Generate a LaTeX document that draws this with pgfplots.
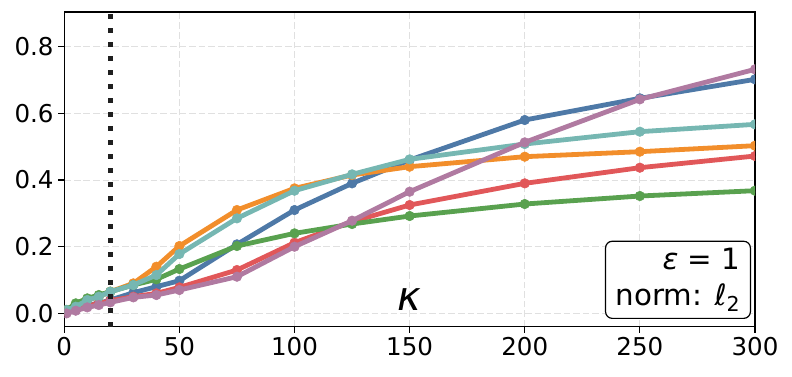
\documentclass[border=0pt]{standalone}
\usepackage{fontspec}
\setmainfont{DejaVu Sans}
\usepackage{pgfplots}
\pgfplotsset{compat=1.18}
\definecolor{cblue}{HTML}{4E79A7}
\definecolor{corange}{HTML}{F28E2B}
\definecolor{cred}{HTML}{E15759}
\definecolor{cteal}{HTML}{76B7B2}
\definecolor{cgreen}{HTML}{59A14F}
\definecolor{cpurple}{HTML}{B07AA1}
\begin{document}
\begin{tikzpicture}
\begin{axis}[name=ax, scale only axis, width=518pt, height=236pt,
  xmin=0, xmax=300, ymin=-0.04, ymax=0.904,
  xtick={0,50,...,300}, ytick={0,0.2,0.4,0.6,0.8},
  yticklabel style={/pgf/number format/.cd, fixed, fixed zerofill, precision=1},
  /pgf/number format/assume math mode=true,
  tick label style={font=\fontsize{18.4}{22}\selectfont},
  tick align=outside, tick pos=left, major tick length=4.5pt,
  tick style={black, line width=0.9pt},
  axis line style={black, line width=0.9pt},
  grid=major, major grid style={color=black!12, line width=0.6pt, dash pattern=on 5pt off 2.2pt},
  clip marker paths=true,
  every axis plot/.append style={line width=3.6pt, mark=*, mark size=3.6pt, mark options={solid, line width=0.4pt}},
]
\addplot[cblue] coordinates {(1,0.01)(5,0.015)(10,0.025)(15,0.03)(20,0.04)(30,0.062)(40,0.08)(50,0.098)(75,0.207)(100,0.31)(125,0.39)(150,0.46)(200,0.58)(250,0.645)(300,0.702)};
\addplot[corange] coordinates {(1,0.01)(5,0.02)(10,0.04)(15,0.05)(20,0.065)(30,0.09)(40,0.14)(50,0.202)(75,0.31)(100,0.375)(125,0.415)(150,0.44)(200,0.47)(250,0.485)(300,0.503)};
\addplot[cred] coordinates {(1,0.005)(5,0.012)(10,0.022)(15,0.03)(20,0.038)(30,0.05)(40,0.06)(50,0.078)(75,0.13)(100,0.212)(125,0.275)(150,0.325)(200,0.39)(250,0.437)(300,0.472)};
\addplot[cgreen] coordinates {(1,0.01)(5,0.03)(10,0.045)(15,0.055)(20,0.065)(30,0.085)(40,0.102)(50,0.133)(75,0.202)(100,0.24)(125,0.268)(150,0.292)(200,0.328)(250,0.352)(300,0.368)};
\addplot[cteal] coordinates {(1,0.01)(5,0.02)(10,0.04)(15,0.05)(20,0.065)(30,0.085)(40,0.115)(50,0.178)(75,0.285)(100,0.368)(125,0.417)(150,0.462)(200,0.508)(250,0.545)(300,0.567)};
\addplot[cpurple] coordinates {(1,0.0)(5,0.008)(10,0.018)(15,0.025)(20,0.033)(30,0.048)(40,0.055)(50,0.07)(75,0.11)(100,0.2)(125,0.278)(150,0.365)(200,0.513)(250,0.642)(300,0.732)};
\addplot[black!88, line width=3.4pt, dash pattern=on 3.4pt off 7.1pt, mark=none] coordinates {(20,-0.04)(20,0.904)};
\node at (rel axis cs:0.5,0.085) {\fontsize{30}{36}\selectfont\itshape κ};
\node[draw=black, line width=0.9pt, rounded corners=5pt, fill=white, align=right, anchor=south east,
  font=\fontsize{22}{26.5}\selectfont, inner xsep=7.5pt, inner ysep=5.5pt, xshift=-3pt, yshift=5.8pt]
  at (rel axis cs:1,0) {\textit{ε} = 1\\norm: \textit{ℓ}\textsubscript{2}};
\end{axis}
\pgfresetboundingbox
\path ([xshift=-48.2pt,yshift=-37pt]ax.south west) rectangle ([xshift=27.75pt,yshift=9pt]ax.north east);
\end{tikzpicture}
\end{document}
